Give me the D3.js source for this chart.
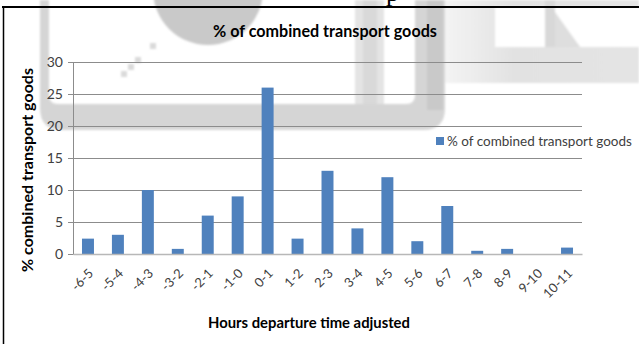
<!DOCTYPE html>
<html>
<head>
<meta charset="utf-8">
<script src="https://cdn.jsdelivr.net/npm/d3@7"></script>
<style>
  html, body { margin: 0; padding: 0; background: #fff; }
  svg { display: block; }
</style>
</head>
<body>
<svg id="chart" width="639" height="344"></svg>
<script>
// Share of combined transport goods per hour band of adjusted departure time
const categories = ["-6-5", "-5-4", "-4-3", "-3-2", "-2-1", "-1-0", "0-1", "1-2", "2-3",
                    "3-4", "4-5", "5-6", "6-7", "7-8", "8-9", "9-10", "10-11"];
const shareValues = [2.4, 3, 10, 0.8, 6, 9, 26, 2.4, 13, 4, 12, 2, 7.5, 0.5, 0.8, 0, 1];
const yTickValues = [0, 5, 10, 15, 20, 25, 30];
const seriesName = "% of combined transport goods";
const chartTitle = "% of combined transport goods";
const yAxisTitle = "% combined transport goods";
const xAxisTitle = "Hours departure time adjusted";

const W = 639, H = 344;
const plot = { left: 73, right: 582, top: 62, bottom: 254 };
const FONT = "Lato, 'Open Sans', sans-serif";
const BAR = "#4f81bd";
const GRID = "#8c8c8c";

const svg = d3.select("#chart");
svg.append("rect").attr("width", W).attr("height", H).attr("fill", "#fff");

// ---- faint page watermark behind the chart ----
const defs = svg.append("defs");
defs.append("filter").attr("id", "soft")
  .append("feGaussianBlur").attr("stdDeviation", 1.3);
const fadeGrad = defs.append("linearGradient").attr("id", "fadeRight")
  .attr("x1", "0").attr("x2", "1").attr("y1", "0").attr("y2", "0");
fadeGrad.append("stop").attr("offset", "0").attr("stop-color", "#f4f4f4");
fadeGrad.append("stop").attr("offset", "0.35").attr("stop-color", "#e2e2e2");
fadeGrad.append("stop").attr("offset", "1").attr("stop-color", "#e4e4e4");

const wm = svg.append("g").attr("filter", "url(#soft)");
// rounded "U" frame
wm.append("path")
  .attr("d", "M40,0 V108 Q40,130 62,130 H423 Q445,130 445,108 V0 H415 V95 Q415,104 406,104 H58 Q49,104 49,95 V0 Z")
  .attr("fill", "#d5d5d5");
// inner stroke of the frame
wm.append("rect").attr("x", 355).attr("y", 0).attr("width", 29).attr("height", 104).attr("fill", "#e4e4e4");
wm.append("rect").attr("x", 363).attr("y", 0).attr("width", 14).attr("height", 104).attr("fill", "#d9d9d9");
wm.append("rect").attr("x", 427).attr("y", 0).attr("width", 16).attr("height", 110).attr("fill", "#c9c9c9");
// disc at the top
wm.append("circle").attr("cx", 208).attr("cy", -10).attr("r", 55).attr("fill", "#c9c9c9");
// dotted diagonal
[[124, 74], [131, 67], [138, 60], [153, 46]].forEach(([x, y]) => {
  wm.append("rect").attr("x", x - 3).attr("y", y - 3).attr("width", 6).attr("height", 6).attr("fill", "#dadada");
});
// right block
wm.append("rect").attr("x", 445).attr("y", 0).attr("width", 194).attr("height", 83).attr("fill", "url(#fadeRight)");
wm.append("rect").attr("x", 495).attr("y", 7).attr("width", 50).attr("height", 40).attr("fill", "#fff");
wm.append("path").attr("d", "M555,7 L639,7 L639,47 L580,47 L555,14 Z").attr("fill", "#fff");
wm.append("rect").attr("x", 545).attr("y", 0).attr("width", 10).attr("height", 47).attr("fill", "#d8d8d8");
wm.append("path").attr("d", "M555,12 L580,47 L555,47 Z").attr("fill", "#dedede");

// ---- scales ----
const x = d3.scaleBand()
  .domain(categories)
  .range([plot.left, plot.right])
  .paddingInner(0.6)
  .paddingOuter(0.3);

const y = d3.scaleLinear()
  .domain([0, 30])
  .range([plot.bottom, plot.top]);

// ---- gridlines and y axis ----
const yAxis = d3.axisLeft(y)
  .tickValues(yTickValues)
  .tickSize(5)
  .tickPadding(5)
  .tickFormat(d3.format("d"));

const yg = svg.append("g")
  .attr("transform", `translate(${plot.left},0)`)
  .call(yAxis);
yg.select(".domain").attr("stroke", GRID);
yg.selectAll(".tick line").attr("stroke", GRID);
yg.selectAll(".tick text")
  .attr("font-family", FONT).attr("font-size", 14).attr("fill", "#404040");

svg.append("g").selectAll("line")
  .data(yTickValues.filter(v => v > 0))
  .join("line")
  .attr("x1", plot.left).attr("x2", plot.right)
  .attr("y1", d => Math.round(y(d)) + 0.5).attr("y2", d => Math.round(y(d)) + 0.5)
  .attr("stroke", GRID).attr("stroke-width", 1);

// ---- bars ----
svg.append("g").selectAll("rect")
  .data(categories.map((c, i) => ({ c, v: shareValues[i] })))
  .join("rect")
  .attr("x", d => x(d.c))
  .attr("width", x.bandwidth())
  .attr("y", d => y(d.v))
  .attr("height", d => y(0) - y(d.v))
  .attr("fill", BAR);

// ---- x axis ----
const xAxis = d3.axisBottom(x).tickSize(0).tickPadding(0);
const xg = svg.append("g")
  .attr("transform", `translate(0,${plot.bottom})`)
  .call(xAxis);
xg.select(".domain").attr("stroke", "#b8b8b8").attr("stroke-width", 1.5);
xg.selectAll(".tick text")
  .attr("font-family", FONT).attr("font-size", 13).attr("fill", "#404040")
  .attr("text-anchor", "end")
  .attr("dy", "0.35em")
  .attr("transform", "translate(3,17) rotate(-45)");

// ---- text helpers ----
function fitWidth(sel, target) {
  const w = sel.node().getComputedTextLength();
  const fs = parseFloat(sel.attr("font-size"));
  sel.attr("font-size", fs * target / w);
  return sel;
}

// title
fitWidth(svg.append("text")
  .attr("x", 325).attr("y", 37)
  .attr("text-anchor", "middle")
  .attr("font-family", FONT).attr("font-weight", "bold").attr("font-size", 15)
  .attr("fill", "#000")
  .text(chartTitle), 224);

// axis titles
fitWidth(svg.append("text")
  .attr("transform", "translate(33,170) rotate(-90)")
  .attr("text-anchor", "middle")
  .attr("font-family", FONT).attr("font-weight", "bold").attr("font-size", 14)
  .attr("fill", "#000")
  .text(yAxisTitle), 204);

fitWidth(svg.append("text")
  .attr("x", 309).attr("y", 328)
  .attr("text-anchor", "middle")
  .attr("font-family", FONT).attr("font-weight", "bold").attr("font-size", 14)
  .attr("fill", "#000")
  .text(xAxisTitle), 202);

// legend
const lg = svg.append("g");
lg.append("rect").attr("x", 436).attr("y", 137).attr("width", 8).attr("height", 8).attr("fill", BAR);
fitWidth(lg.append("text")
  .attr("x", 447).attr("y", 146)
  .attr("font-family", FONT).attr("font-size", 13)
  .attr("fill", "#404040")
  .text(seriesName), 185);

// ---- page frame and the tail of the line above it ----
svg.append("line").attr("x1", 2).attr("x2", W).attr("y1", 7).attr("y2", 7)
  .attr("stroke", "#000").attr("stroke-width", 2);
svg.append("line").attr("x1", 3.5).attr("x2", 3.5).attr("y1", 6).attr("y2", H)
  .attr("stroke", "#000").attr("stroke-width", 1.5);
svg.append("text")
  .attr("x", 386).attr("y", 0.5)
  .attr("font-family", "'Liberation Serif', serif").attr("font-size", 26)
  .attr("fill", "#000")
  .text("p");
</script>
</body>
</html>
